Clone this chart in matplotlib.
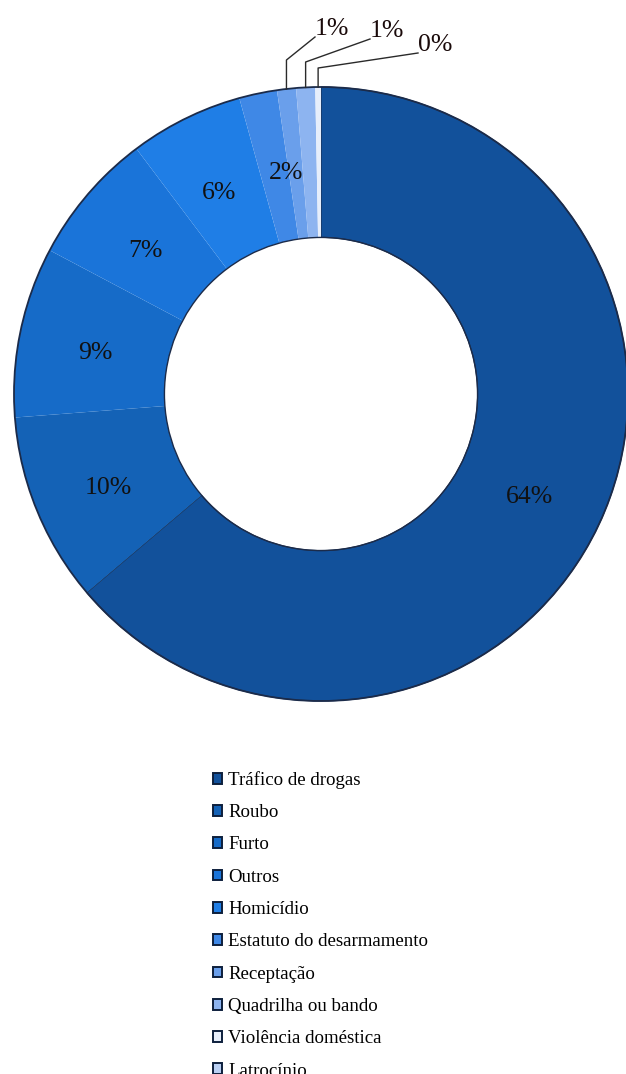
import numpy as np
import matplotlib
matplotlib.use("Agg")
import matplotlib.pyplot as plt
from matplotlib.patches import Patch, Circle

plt.rcParams['font.family'] = ['Liberation Serif', 'DejaVu Serif']

# --- Data --------------------------------------------------------------------
categories = ["Tráfico de drogas", "Roubo", "Furto", "Outros", "Homicídio",
              "Estatuto do desarmamento", "Receptação", "Quadrilha ou bando",
              "Violência doméstica", "Latrocínio"]
shares = [64, 10, 9, 7, 6, 2, 1, 1, 0.3, 0]          # percent
shown_pct = ["64%", "10%", "9%", "7%", "6%", "2%", "1%", "1%", "0%", ""]

colors = ["#12519b", "#1462b6", "#166bc8", "#1a74d9", "#1f7ee6",
          "#3f88e6", "#6a9feb", "#8db4f0", "#e6eefb", "#b9cff3"]

# --- Layout (pixels) ---------------------------------------------------------
W, H = 626, 1074
CX, CY = 321, H - 394
R_OUT = 307
RING = 0.49          # ring width as fraction of outer radius

fig = plt.figure(figsize=(W / 100, H / 100), dpi=100)
ax = fig.add_axes([0, 0, 1, 1])

wedges, _ = ax.pie(shares, colors=colors, startangle=90, counterclock=False,
                   radius=R_OUT, center=(CX, CY),
                   wedgeprops=dict(width=R_OUT * RING, edgecolor="none"))
wedges[0].set_edgecolor("#1c3050")
wedges[0].set_linewidth(0.8)

# dark rim around the ring
ax.add_patch(Circle((CX, CY), R_OUT, fill=False, ec="#1b2b4a", lw=1.3))
ax.add_patch(Circle((CX, CY), R_OUT * (1 - RING), fill=False, ec="#1b2b4a", lw=1.0))

ax.set_xlim(0, W)
ax.set_ylim(0, H)
ax.set_aspect("equal")
ax.axis("off")

# labels inside the ring for larger slices, outside with leader lines for tiny ones
outside = {6: (315, 29, 60), 7: (370, 31, 62), 8: (418, 45, 68)}  # idx: text x, text y, elbow y (px from top)
nudge = {5: (12, 2)}
for i, w in enumerate(wedges):
    if shares[i] == 0:
        continue
    ang = np.deg2rad((w.theta1 + w.theta2) / 2)
    if i in outside:
        tx, ty, ey = outside[i]
        ax0 = CX + R_OUT * np.cos(ang)
        ay0 = CY + R_OUT * np.sin(ang)
        ax.plot([ax0, ax0, tx], [ay0, H - ey, H - ty - 8], color="#2a2a2a", lw=1.0)
        ax.text(tx, H - ty, shown_pct[i], ha="left", va="center", fontsize=18.5, color="#1a0a0a")
    else:
        dx, dy = nudge.get(i, (0, 0))
        rr = R_OUT * 0.75
        ax.text(CX + rr * np.cos(ang) + dx, CY + rr * np.sin(ang) - 6 + dy, shown_pct[i],
                ha="center", va="center", fontsize=18.5, color="#111111")

# --- Legend ------------------------------------------------------------------
handles = [Patch(facecolor=c, edgecolor="#0d1f3c", lw=1.4) for c in colors]
fig.legend(handles, categories, loc="upper left", bbox_to_anchor=(213 / W, 1 - 771 / H),
           frameon=False, fontsize=13.6, handlelength=0.5, handleheight=0.5,
           handletextpad=0.3, labelspacing=0.81, borderpad=0, borderaxespad=0)

fig.savefig("out.png", dpi=100)
